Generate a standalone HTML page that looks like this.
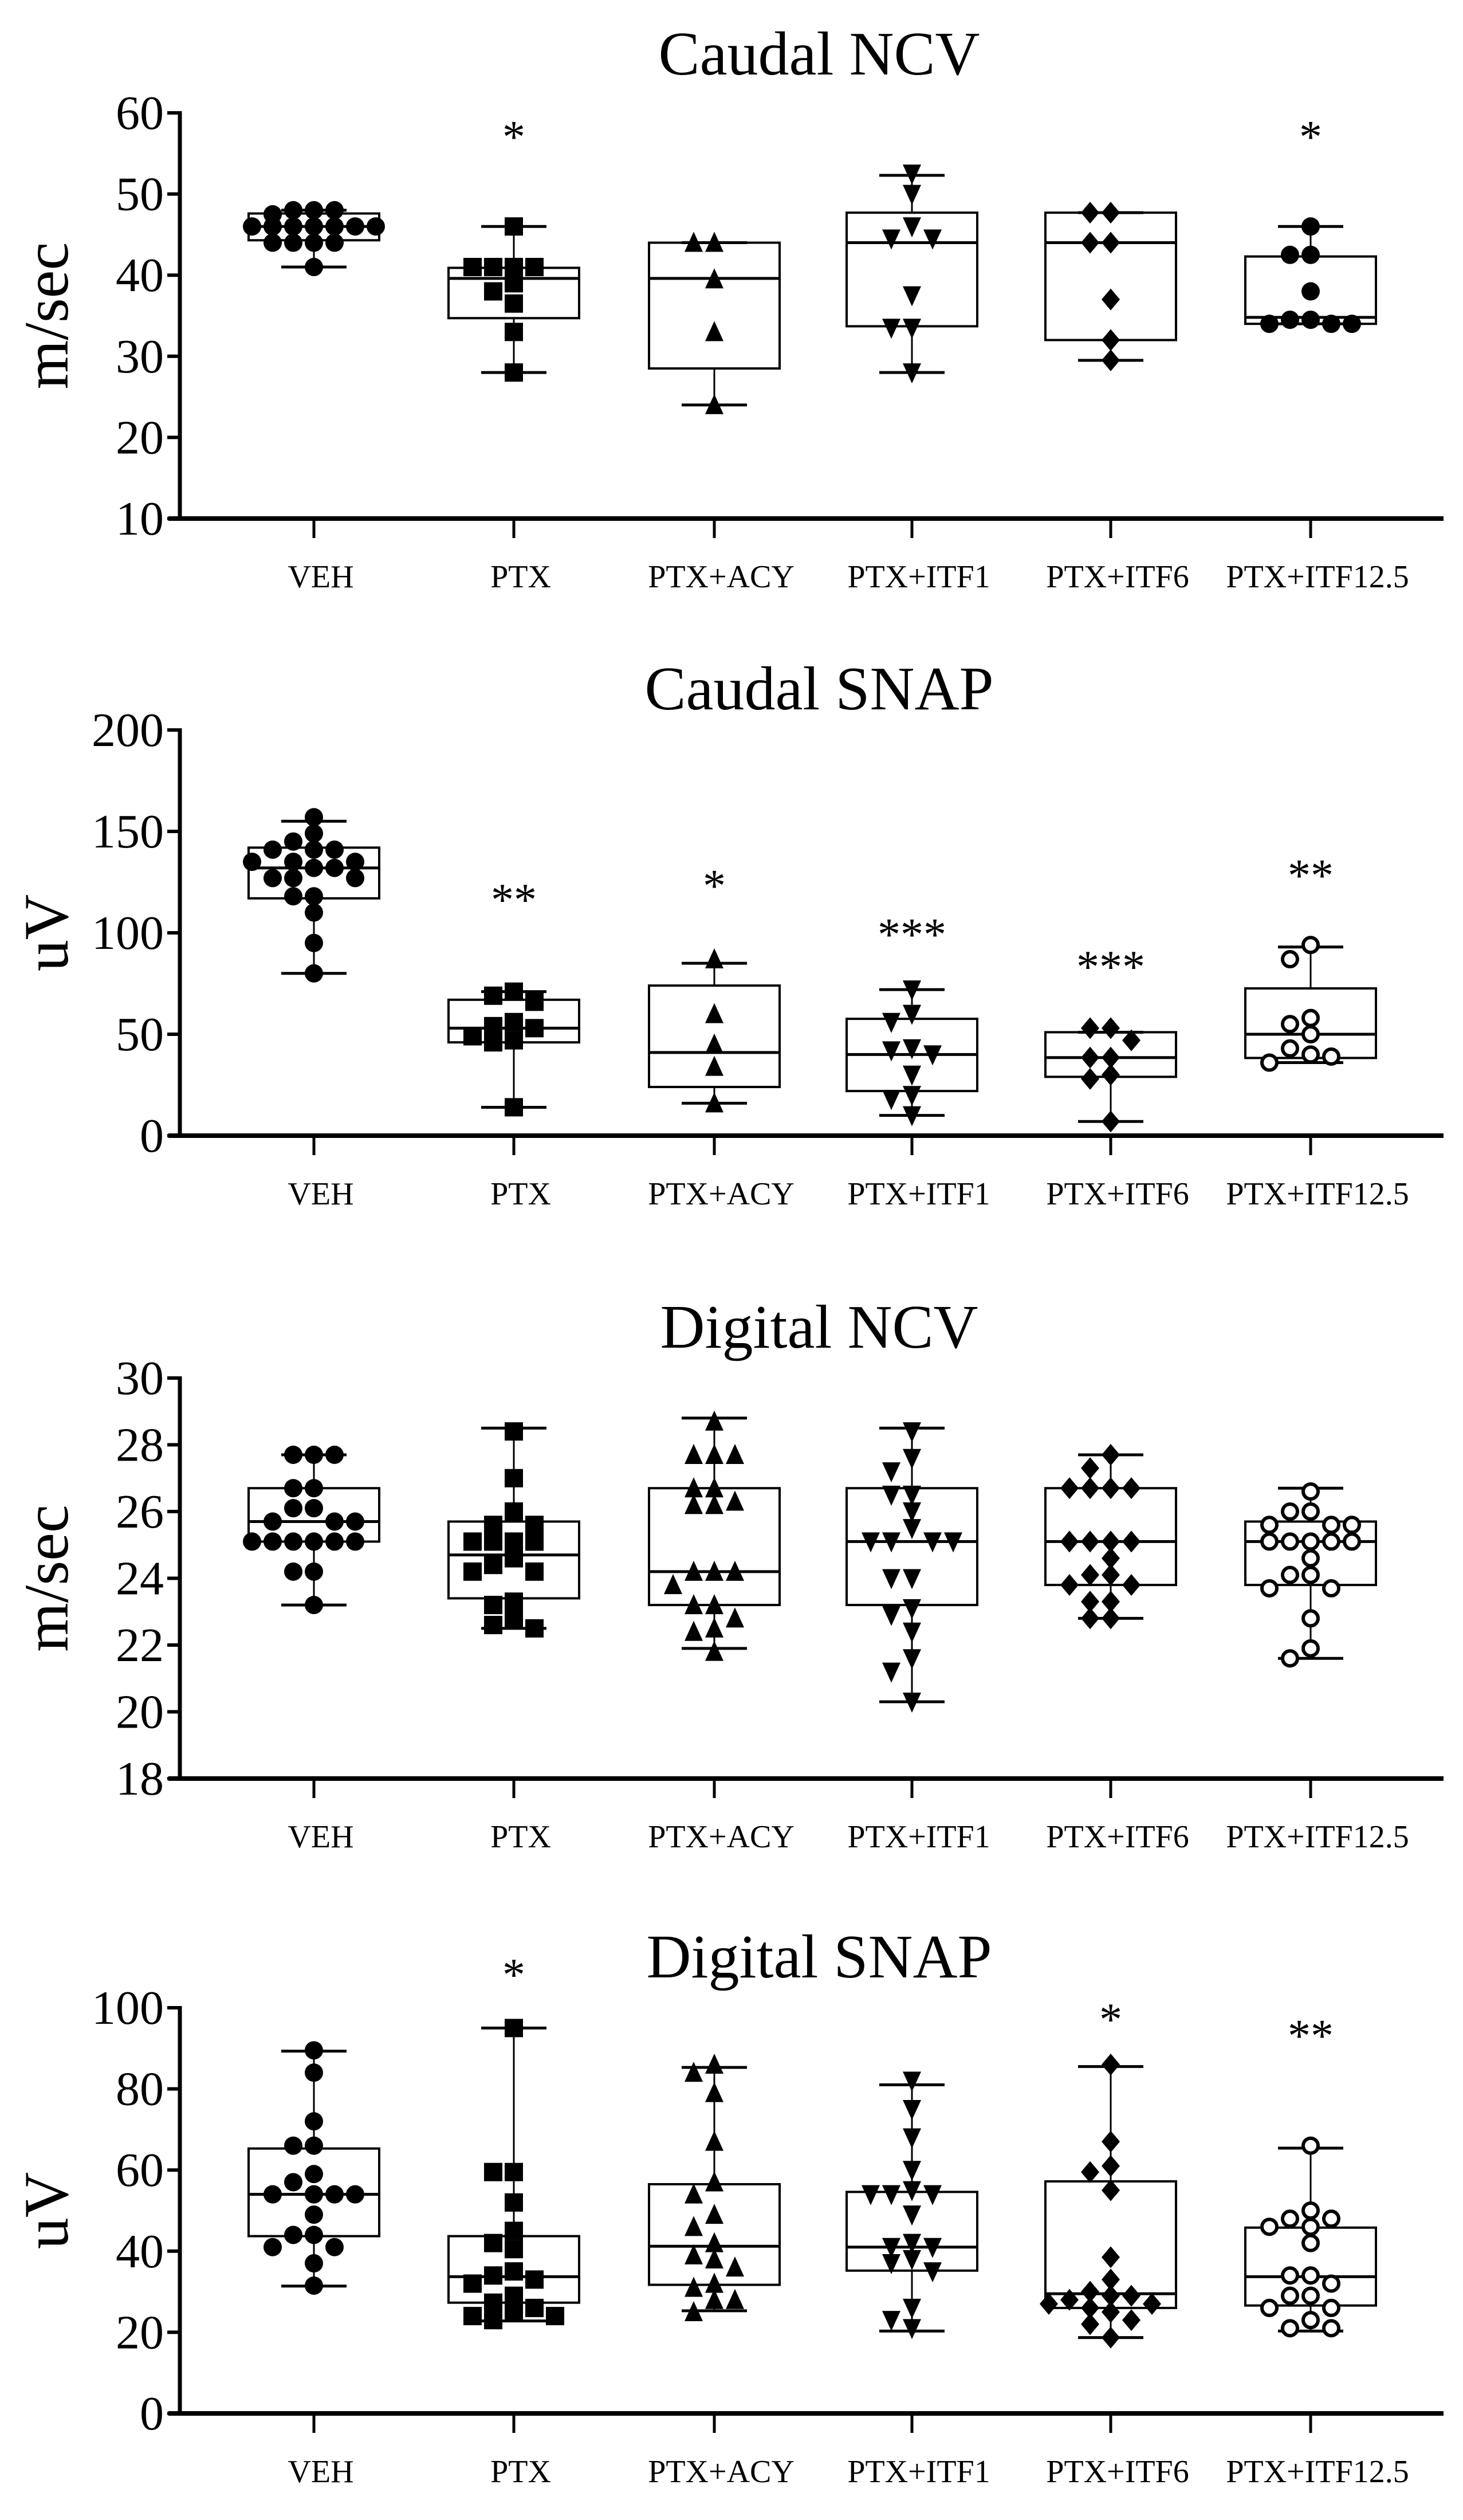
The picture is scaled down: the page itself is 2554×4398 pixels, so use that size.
<!DOCTYPE html>
<html><head><meta charset="utf-8"><style>
html,body{margin:0;padding:0;background:#fff;}
svg{display:block;font-family:"Liberation Serif",serif;}
</style></head><body>
<svg id="chart" width="2554" height="4398" viewBox="0 0 2554 4398" xmlns="http://www.w3.org/2000/svg"></svg>
<script>
const categories = ["VEH","PTX","PTX+ACY","PTX+ITF1","PTX+ITF6","PTX+ITF12.5"];

// Panel 1: Caudal NCV
const cncvPoints = [
  [48,48,48,47.5,46,46,46,46,46,46,46,44,44,44,44,41],
  [46,41,41,41,41,39,38,36.5,33,28],
  [44,44,39.5,33,24],
  [52.5,50,46,44.5,44.5,37.5,33.5,33.5,28],
  [47.7,47.7,44,44,37,32,29.5],
  [46,42.5,42.5,38,34.5,34.5,34,34,34]
];
const cncvBox = [[41,44.3,46,47.6,48],[28,34.7,39.6,40.9,46],[24,28.5,39.6,44,44],[28,33.7,44,47.7,52.3],[29.5,32,44,47.7,47.7],[34,34,34.8,42.3,46]];
const cncvStars = ["","*","","","","*"];
const cncvStarY = [0,58,0,0,0,58];
const cncvTicks = [10,20,30,40,50,60];

// Panel 2: Caudal SNAP
const csnapPoints = [
  [157,149,145,141,141,141,135,135,135,132,132,127,127,127,118,118,110,95,80],
  [71,69,66,56,54,53,49,47,46,14],
  [87,60,45,34,16],
  [72,60,56,43,42,40,30,20,18,10],
  [53,53,47,38.5,38.5,30,28,7],
  [94,87,58,55,50,43,40,39,36]
];
const csnapBox = [[80,117,132,142,155],[14,46,53,67,71],[16,24,41,74,85],[10,22,40,57.6,72],[7,29,38.5,51,51],[36,38.3,50,72.6,93]];
const csnapStars = ["","**","*","***","***","**"];
const csnapStarY = [0,120,127,103,87,132];
const csnapTicks = [0,50,100,150,200];

// Panel 3: Digital NCV
const dncvPoints = [
  [27.7,27.7,27.7,26.7,26.7,26.1,26.1,25.7,25.7,25.7,25.1,25.1,25.1,25.1,25.1,25.1,24.2,24.2,23.2],
  [28.4,27,26,25.6,25.6,25.1,25.1,25.1,25.1,24.6,24.4,24.2,24.2,23.3,23.2,22.8,22.6,22.5],
  [28.7,27.7,27.7,27.7,26.7,26.7,26.2,26.3,26.2,24.2,24.2,24.2,23.8,23.2,23.2,22.8,22.4,22.5,21.8],
  [28.4,27.6,27.2,26.5,26.5,26.0,25.5,25.1,25.1,25.1,25.1,24.0,24.0,23.1,22.9,22.4,21.6,21.2,20.3],
  [27.7,27.3,26.7,26.7,26.7,26.7,25.1,25.1,25.1,25.1,24.6,24.1,24.1,23.8,23.8,23.3,23.3,22.8,22.8],
  [26.6,26.0,26.0,25.6,25.6,25.6,25.1,25.1,25.1,25.1,25.1,24.6,24.1,24.1,23.7,23.7,22.8,21.9,21.6]
];
const dncvBox = [[23.2,25.1,25.7,26.7,27.7],[22.5,23.4,24.7,25.7,28.5],[21.9,23.2,24.2,26.7,28.8],[20.3,23.2,25.1,26.7,28.5],[22.8,23.8,25.1,26.7,27.7],[21.6,23.8,25.1,25.7,26.7]];
const dncvStars = ["","","","","",""];
const dncvStarY = [0,0,0,0,0,0];
const dncvTicks = [18,20,22,24,26,28,30];

// Panel 4: Digital SNAP
const dsnapPoints = [
  [89.5,84,72,66,66,59,57,54,54,54,54,49,44,44,41,41,37,31.5],
  [95,59.5,59.5,52,45,42,40.5,35,34,33,32,29,27.3,26,25,24,24,23],
  [86,84,79,67,57,54,49,46,42,39,38,36,32,31,28,28,25],
  [82,75,68,60,55,54,54,54,49,42,41,41,38,37,35,26,23,21],
  [86,67,61,59.5,55,38.5,33,30,29,29,28,27,27,26,25,23,22,18.7],
  [66,50,48,48,46,46,42,34,34,32,29,29,26,26,23,21,21]
];
const dsnapBox = [[31.4,43.7,54,65.3,89.3],[22.8,27.3,33.7,43.7,95],[25.3,31.7,41.2,56.5,85.3],[20.3,35.2,41,54.6,81],[18.7,26,29.5,57.2,85.5],[20.3,26.6,33.7,45.8,65.4]];
const dsnapStars = ["","*","","","*","**"];
const dsnapStarY = [0,110,0,0,99,95];
const dsnapTicks = [0,20,40,60,80,100];

const NS = "http://www.w3.org/2000/svg";
const svg = document.getElementById("chart");
const catX = [548,897,1247,1592,1939,2288];
const AX_L = 314, AX_R = 2520;

function mk(tag, attrs, parent){
  const e = document.createElementNS(NS, tag);
  for (const k in attrs) e.setAttribute(k, attrs[k]);
  (parent||svg).appendChild(e);
  return e;
}

function drawMarker(g, shape, x, y){
  const r = 16;
  let m;
  if (shape === "circle") m = mk("circle",{cx:x,cy:y,r:r,fill:"#000"},g);
  else if (shape === "open") m = mk("circle",{cx:x,cy:y,r:r-3,fill:"#fff",stroke:"#000","stroke-width":6},g);
  else if (shape === "square") m = mk("rect",{x:x-r,y:y-r,width:2*r,height:2*r,fill:"#000"},g);
  else if (shape === "up") m = mk("polygon",{points:`${x},${y-r-3} ${x-r},${y+r} ${x+r},${y+r}`,fill:"#000"},g);
  else if (shape === "down") m = mk("polygon",{points:`${x},${y+r+3} ${x-r},${y-r} ${x+r},${y-r}`,fill:"#000"},g);
  else m = mk("polygon",{points:`${x},${y-r-3} ${x+r},${y} ${x},${y+r+3} ${x-r},${y}`,fill:"#000"},g);
  
  
}

function panel(cfg){
  const {key,title,titleY,ylabel,top,bot,min,max,ticks,points,box,stars,starY,shapes} = cfg;
  const yS = v => bot - (v - min) / (max - min) * (bot - top);
  const g = mk("g",{});
  
  
  const t = mk("text",{x:1430,y:titleY,"font-size":108,"text-anchor":"middle"},g);
  t.textContent = title;
  
  
  const yl = mk("text",{x:0,y:0,"font-size":110,"text-anchor":"middle",transform:`translate(118,${(top+bot)/2}) rotate(-90)`},g);
  yl.textContent = ylabel;
  
  
  const ya = mk("line",{x1:AX_L,y1:top-3,x2:AX_L,y2:bot+3,stroke:"#000","stroke-width":7},g);
  
  
  const xa = mk("line",{x1:AX_L-20,y1:bot,x2:AX_R,y2:bot,stroke:"#000","stroke-width":8},g);
  
  
  ticks.forEach(v => {
    const y = yS(v);
    mk("line",{x1:AX_L-22,y1:y,x2:AX_L,y2:y,stroke:"#000","stroke-width":6},g);
    const tl = mk("text",{x:AX_L-28,y:y+28,"font-size":84,"text-anchor":"end"},g);
    tl.textContent = v;
    
    
  });
  categories.forEach((c,i) => {
    const x = catX[i];
    mk("line",{x1:x,y1:bot,x2:x,y2:bot+34,stroke:"#000","stroke-width":5},g);
    const cl = mk("text",{x:x+12,y:bot+120,"font-size":56,"text-anchor":"middle"},g);
    cl.textContent = c;
    
    
  });
  categories.forEach((c,i) => {
    const x = catX[i];
    const [mn,q1,md,q3,mx] = box[i];
    const bg = mk("g",{},g);
    
    
    mk("line",{x1:x,y1:yS(mx),x2:x,y2:yS(q3),stroke:"#000","stroke-width":3},bg);
    mk("line",{x1:x,y1:yS(q1),x2:x,y2:yS(mn),stroke:"#000","stroke-width":3},bg);
    mk("line",{x1:x-57,y1:yS(mx),x2:x+57,y2:yS(mx),stroke:"#000","stroke-width":5},bg);
    mk("line",{x1:x-57,y1:yS(mn),x2:x+57,y2:yS(mn),stroke:"#000","stroke-width":5},bg);
    mk("rect",{x:x-114,y:yS(q3),width:228,height:yS(q1)-yS(q3),fill:"none",stroke:"#000","stroke-width":4},bg);
    mk("line",{x1:x-114,y1:yS(md),x2:x+114,y2:yS(md),stroke:"#000","stroke-width":5},bg);
    const placed = [];
    const pts = points[i].map(v => yS(v)).sort((a,b)=>a-b);
    pts.forEach(py => {
      const offs = [0,-36,36,-72,72,-108,108];
      let ox = 0, best = -1;
      for (const o of offs){
        const d = placed.length ? Math.min(...placed.map(p => Math.hypot(p[0]-o, p[1]-py))) : 1e9;
        if (d >= 28){ ox = o; best = 1e9; break; }
        if (d > best){ best = d; ox = o; }
      }
      placed.push([ox,py]);
      drawMarker(bg, shapes[i], x+ox, py);
    });
    if (stars[i]){
      const st = mk("text",{x:x,y:yS(starY[i])+40,"font-size":80,"text-anchor":"middle"},g);
      st.textContent = stars[i];
      
      
    }
  });
}

const sh1 = ["circle","square","up","down","diamond","circle"];
const sh2 = ["circle","square","up","down","diamond","open"];
panel({key:"caudal-ncv",title:"Caudal NCV",titleY:130,ylabel:"m/sec",top:197,bot:905,min:10,max:60,ticks:cncvTicks,points:cncvPoints,box:cncvBox,stars:cncvStars,starY:cncvStarY,shapes:sh1});
panel({key:"caudal-snap",title:"Caudal SNAP",titleY:1238,ylabel:"uV",top:1274,bot:1982,min:0,max:200,ticks:csnapTicks,points:csnapPoints,box:csnapBox,stars:csnapStars,starY:csnapStarY,shapes:sh2});
panel({key:"digital-ncv",title:"Digital NCV",titleY:2352,ylabel:"m/sec",top:2405,bot:3104,min:18,max:30,ticks:dncvTicks,points:dncvPoints,box:dncvBox,stars:dncvStars,starY:dncvStarY,shapes:sh2});
panel({key:"digital-snap",title:"Digital SNAP",titleY:3451,ylabel:"uV",top:3504,bot:4212,min:0,max:100,ticks:dsnapTicks,points:dsnapPoints,box:dsnapBox,stars:dsnapStars,starY:dsnapStarY,shapes:sh2});
</script>
</body></html>
